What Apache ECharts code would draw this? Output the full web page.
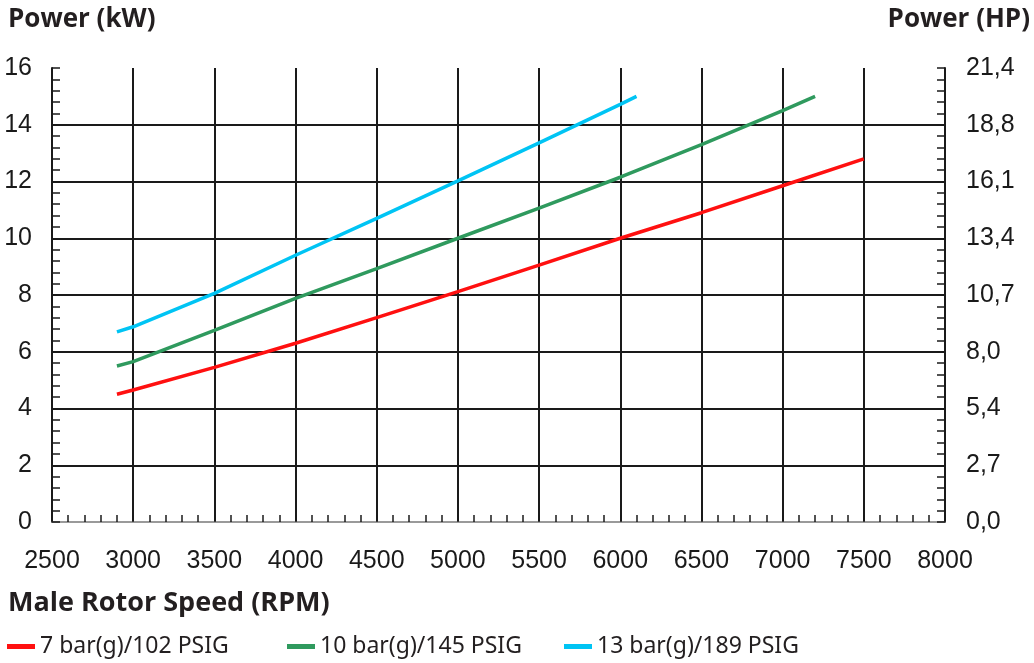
<!DOCTYPE html>
<html>
<head>
<meta charset="utf-8">
<script src="https://cdn.jsdelivr.net/npm/echarts@6/dist/echarts.min.js"></script>
<style>html,body{margin:0;padding:0;background:#fff;}#c{width:1034px;height:663px;}</style>
</head>
<body>
<div id="c"></div>
<script>
var rpm7 = [2900, 3000, 3500, 4000, 4500, 5000, 5500, 6000, 6500, 7000, 7500];
var kw7 = [4.5, 4.65, 5.45, 6.3, 7.2, 8.12, 9.05, 10.0, 10.9, 11.85, 12.8];
var rpm10 = [2900, 3000, 3500, 4000, 4500, 5000, 5500, 6000, 6500, 7000, 7200];
var kw10 = [5.5, 5.65, 6.75, 7.88, 8.93, 10.0, 11.06, 12.15, 13.3, 14.5, 15.0];
var rpm13 = [2900, 3000, 3500, 4000, 4500, 5000, 5500, 6000, 6100];
var kw13 = [6.7, 6.88, 8.06, 9.4, 10.7, 12.02, 13.36, 14.72, 15.0];
var seriesNames = ['7 bar(g)/102 PSIG', '10 bar(g)/145 PSIG', '13 bar(g)/189 PSIG'];
var seriesColors = ['#ff1010', '#2f9a5e', '#00c4f4'];
var kwTicks = ['0', '2', '4', '6', '8', '10', '12', '14', '16'];
var hpTicks = ['0,0', '2,7', '5,4', '8,0', '10,7', '13,4', '16,1', '18,8', '21,4'];

function pairs(xs, ys) { return xs.map(function (x, i) { return [x, ys[i]]; }); }

var chart = echarts.init(document.getElementById('c'));
var labelFont = { fontFamily: 'Liberation Sans, Arial, sans-serif', fontSize: 25, color: '#1a1a1a' };
var titleFont = { fontFamily: 'Open Sans', fontSize: 26, fontWeight: 'bold', color: '#231f20' };
var gridRect = { left: 52, right: 89, top: 68, bottom: 141, containLabel: false };
var tickStyle = { color: '#1a1a1a', width: 1.5 };

function legendFor(i, left) {
  return {
    data: [seriesNames[i]], left: left, top: 635, icon: 'rect', itemWidth: 28, itemHeight: 5,
    itemGap: 0, padding: 0,
    textStyle: { fontFamily: 'Noto Sans', fontSize: 23, color: '#231f20' },
    selectedMode: false
  };
}

function tickAxis(extra) {
  return Object.assign({
    type: 'value', gridIndex: 1,
    axisLine: { show: false },
    axisTick: { show: true, inside: true, length: 7, lineStyle: tickStyle },
    axisLabel: { show: false }, splitLine: { show: false }
  }, extra);
}

chart.setOption({
  animation: false,
  backgroundColor: '#fff',
  title: [
    { text: 'Power (kW)', left: 8, top: 7, padding: 0, textStyle: titleFont },
    { text: 'Power (HP)', right: 4, top: 7, padding: 0, textStyle: titleFont },
    { text: 'Male Rotor Speed (RPM)', left: 8, top: 590, padding: 0, textStyle: { fontFamily: 'Open Sans', fontSize: 27, fontWeight: 'bold', color: '#231f20' } }
  ],
  legend: [legendFor(0, 7), legendFor(1, 287), legendFor(2, 564)],
  grid: [Object.assign({}, gridRect), Object.assign({}, gridRect)],
  xAxis: [{
    type: 'value', gridIndex: 0, min: 2500, max: 8000, interval: 500, position: 'bottom',
    axisLine: { show: true, lineStyle: { color: '#1a1a1a', width: 2 } },
    axisTick: { show: false },
    axisLabel: Object.assign({ margin: 27, formatter: function (v) { return String(v); } }, labelFont),
    splitLine: { show: true, showMinLine: false, showMaxLine: false, lineStyle: { color: '#1a1a1a', width: 2 } }
  }, {
    type: 'value', gridIndex: 0, min: 2500, max: 8000, interval: 500, position: 'top',
    axisLine: { show: true, lineStyle: { color: '#9a9a9a', width: 2 } },
    axisTick: { show: false }, axisLabel: { show: false }, splitLine: { show: false }
  }, tickAxis({ min: 2500, max: 8000, interval: 100, position: 'bottom' })],
  yAxis: [{
    type: 'value', gridIndex: 0, min: 0, max: 16, interval: 2, position: 'left',
    axisLine: { show: true, lineStyle: { color: '#1a1a1a', width: 2 } },
    axisTick: { show: false },
    axisLabel: Object.assign({ margin: 20, formatter: function (v) { return kwTicks[Math.round(v / 2)]; } }, labelFont),
    splitLine: { show: true, showMinLine: false, showMaxLine: false, lineStyle: { color: '#1a1a1a', width: 2 } }
  }, {
    type: 'value', gridIndex: 0, min: 0, max: 16, interval: 2, position: 'right',
    axisLine: { show: true, lineStyle: { color: '#1a1a1a', width: 2 } },
    axisTick: { show: false },
    axisLabel: Object.assign({ margin: 21, formatter: function (v) { return hpTicks[Math.round(v / 2)]; } }, labelFont),
    splitLine: { show: false }
  },
  tickAxis({ min: 0, max: 16, interval: 0.4, position: 'left', axisTick: { show: true, inside: true, length: 8, lineStyle: tickStyle } }),
  tickAxis({ min: 0, max: 16, interval: 0.4, position: 'right', axisTick: { show: true, inside: true, length: 8, lineStyle: tickStyle } })],
  series: [
    { name: seriesNames[0], type: 'line', xAxisIndex: 0, yAxisIndex: 0, data: pairs(rpm7, kw7), smooth: false, showSymbol: false, lineStyle: { color: seriesColors[0], width: 3.5 }, itemStyle: { color: seriesColors[0] } },
    { name: seriesNames[1], type: 'line', xAxisIndex: 0, yAxisIndex: 0, data: pairs(rpm10, kw10), smooth: false, showSymbol: false, lineStyle: { color: seriesColors[1], width: 3.5 }, itemStyle: { color: seriesColors[1] } },
    { name: seriesNames[2], type: 'line', xAxisIndex: 0, yAxisIndex: 0, data: pairs(rpm13, kw13), smooth: false, showSymbol: false, lineStyle: { color: seriesColors[2], width: 3.5 }, itemStyle: { color: seriesColors[2] } }
  ]
});
</script>
</body>
</html>
